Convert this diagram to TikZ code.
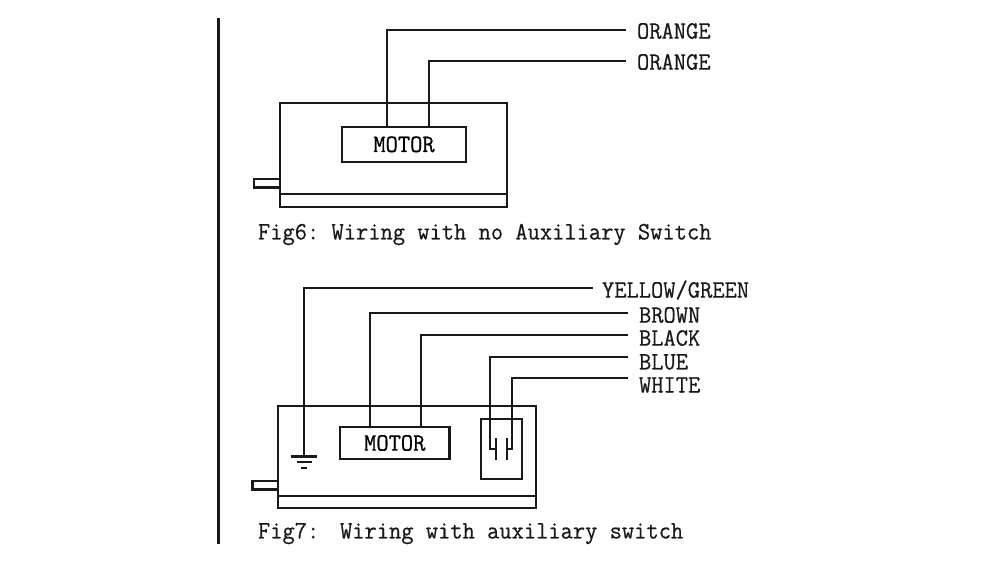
\documentclass[tikz,border=0pt]{standalone}
\usepackage{fontspec}
\setmonofont[FakeStretch=0.952,FakeBold=0.5]{Latin Modern Mono}
\begin{document}
\begin{tikzpicture}[x=1pt,y=-1pt,
  wire/.style={line width=2.2pt,black!90,line join=miter},
  box/.style={draw=black!90,line width=2.2pt,rectangle,inner sep=0pt,outer sep=0pt,anchor=north west,font=\fontsize{25}{26}\selectfont\ttfamily},
  lab/.style={inner sep=0pt,outer sep=0pt,anchor=west,text=black!90,font=\fontsize{25}{26}\selectfont\ttfamily}]
\useasboundingbox (0,0) rectangle (1000,563);
\fill[white] (0,0) rectangle (1000,563);
\coordinate (barT) at (218.5,18); \coordinate (barB) at (218.5,544);
\draw[line width=3pt,black!90] (barT) -- (barB);
% Fig 6
\node[box,minimum width=226.7pt,minimum height=104pt] (case6) at (280,103) {};
\node[box,minimum width=226.7pt,minimum height=13pt] (base6) at (280,194) {};
\node[box,minimum width=26pt,minimum height=8.5pt] (shaft6) at (254,179) {};
\node[box,minimum width=124pt,minimum height=35.3pt] (motor6) at (342,126.7) {MOTOR};
\node[lab] (o1) at (637,31) {ORANGE};
\node[lab] (o2) at (637,62) {ORANGE};
\node[lab] (cap6) at (258,234.5) {Fig6: Wiring with no Auxiliary Switch};
\coordinate (a6) at (387,126.7); \coordinate (b6) at (429.3,126.7);
\coordinate (oe1) at (626,30); \coordinate (oe2) at (626,61);
\draw[wire] (a6) |- (oe1);
\draw[wire] (b6) |- (oe2);
% Fig 7
\node[box,minimum width=258pt,minimum height=102pt] (case7) at (277.7,406) {};
\node[box,minimum width=258pt,minimum height=12pt] (base7) at (277.7,496) {};
\node[box,minimum width=25.5pt,minimum height=8.5pt] (shaft7) at (252.5,481) {};
\node[box,minimum width=109.5pt,minimum height=32pt] (motor7) at (340,427) {MOTOR};
\node[box,minimum width=41pt,minimum height=60pt] (sw) at (481,419) {};
\node[lab] (yg) at (602,290) {YELLOW/GREEN};
\node[lab] (br) at (639,315) {BROWN};
\node[lab] (bk) at (639,338) {BLACK};
\node[lab] (bl) at (639,362) {BLUE};
\node[lab] (wh) at (639,385) {WHITE};
\node[lab] (cap7) at (258,533.5) {Fig7:\ \hspace{8.5pt}Wiring with auxiliary switch};
\coordinate (gt) at (304,456.5);
\coordinate (ye) at (593,287.7); \coordinate (bre) at (628,313.3);
\coordinate (bke) at (628,335.3); \coordinate (ble) at (628,357); \coordinate (whe) at (628,378.3);
\coordinate (m1) at (370,427); \coordinate (m2) at (421,427);
\draw[wire] (gt) |- (ye);
\draw[wire] (m1) |- (bre);
\draw[wire] (m2) |- (bke);
\draw[wire] (496,449) -| (490,357) -- (ble);
\draw[wire] (507,449) -| (512,378.3) -- (whe);
\draw[wire] (496,438) -- (496,460);
\draw[wire] (507,438) -- (507,460);
\draw[wire] (291,456.5) -- (317,456.5);
\draw[wire] (297,462) -- (312,462);
\draw[wire] (301,468) -- (307,468);
\end{tikzpicture}
\end{document}
